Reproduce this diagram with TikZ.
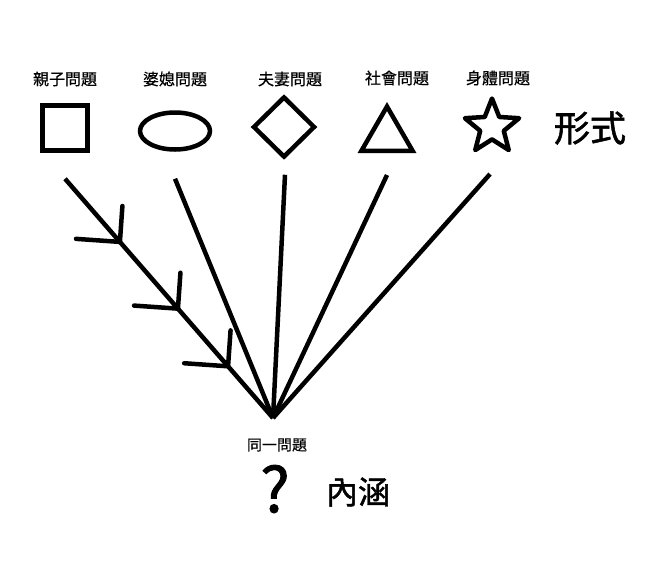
\documentclass[tikz,border=0pt]{standalone}
\usepackage{fontspec}
\newfontfamily\cjk[FakeBold=0.4]{Noto Sans CJK TC}
\newfontfamily\cjkmid[FakeBold=1.5]{Noto Sans CJK TC}
\usepackage{tikz}
\usetikzlibrary{
        decorations.markings,
        positioning,
        shapes,
        shapes.geometric
    }
\newcommand{\featherbarb}{\draw[line width=4.5pt,line cap=round,line join=round] (135:36pt) -- (0,0) -- (-135:44pt);}
\tikzset{thick line/.style={line width=4.5pt}}
\tikzset{shapeline/.style={draw,thick line,inner sep=0pt,minimum size=45pt}}
\tikzset{topic/.style={font=\cjk\fontsize{16}{18}\selectfont}}
\tikzset{feathers/.style={postaction={decorate},decoration={markings,
        mark=at position 0.264 with {\featherbarb},
        mark=at position 0.543 with {\featherbarb},
        mark=at position 0.784 with {\featherbarb}}}}

\begin{document}
\begin{tikzpicture}[x=1pt,y=-1pt]
                \useasboundingbox (0,0) rectangle (652,571);
                % the five forms
                \node[shapeline,rectangle] (square) at (65,128) {};
                \node[shapeline,ellipse,minimum width=70pt,minimum height=37pt] (oval) at (175,131) {};
                \node[shapeline,diamond,minimum width=62pt,minimum height=61pt] (rhomb) at (284,127) {};
                \node[shapeline,regular polygon,regular polygon sides=3,minimum size=59pt] (tri) at (387,136) {};
                \node[shapeline,star,star points=5,star point ratio=2.3,minimum size=57pt,line join=round] (star) at (492,127) {};
                \node[topic] (parent) at (65,79)  {親子問題};
                \node[topic] (inlaw)  at (175,79) {婆媳問題};
                \node[topic] (couple) at (290,79) {夫妻問題};
                \node[topic] (social) at (397,78) {社會問題};
                \node[topic] (body)   at (498,78) {身體問題};
                \node[font=\cjkmid\fontsize{36}{40}\selectfont] (form) at (590,128) {形式};
                % the one content
                \coordinate (meet) at (273,418);
                \node[font=\cjk\fontsize{15}{17}\selectfont] (same) at (277,445) {同一問題};
                \node[font=\cjkmid\fontsize{62}{66}\selectfont] (ques) at (275,489) {?};
                \node[font=\cjkmid\fontsize{32}{36}\selectfont] (content) at (358,492) {內涵};
                \draw[thick line,feathers] ([yshift=-26pt]square.south) -- (meet);
                \draw[thick line] ([yshift=-27pt]oval.south) -- (meet);
                \draw[thick line] ([xshift=1pt,yshift=-15pt]rhomb.south) -- (meet);
                \draw[thick line] ([yshift=-22pt]tri.south) -- (meet);
                \draw[thick line] ([xshift=-2pt,yshift=-32pt]star.south) -- (meet);
            \end{tikzpicture}
\end{document}
